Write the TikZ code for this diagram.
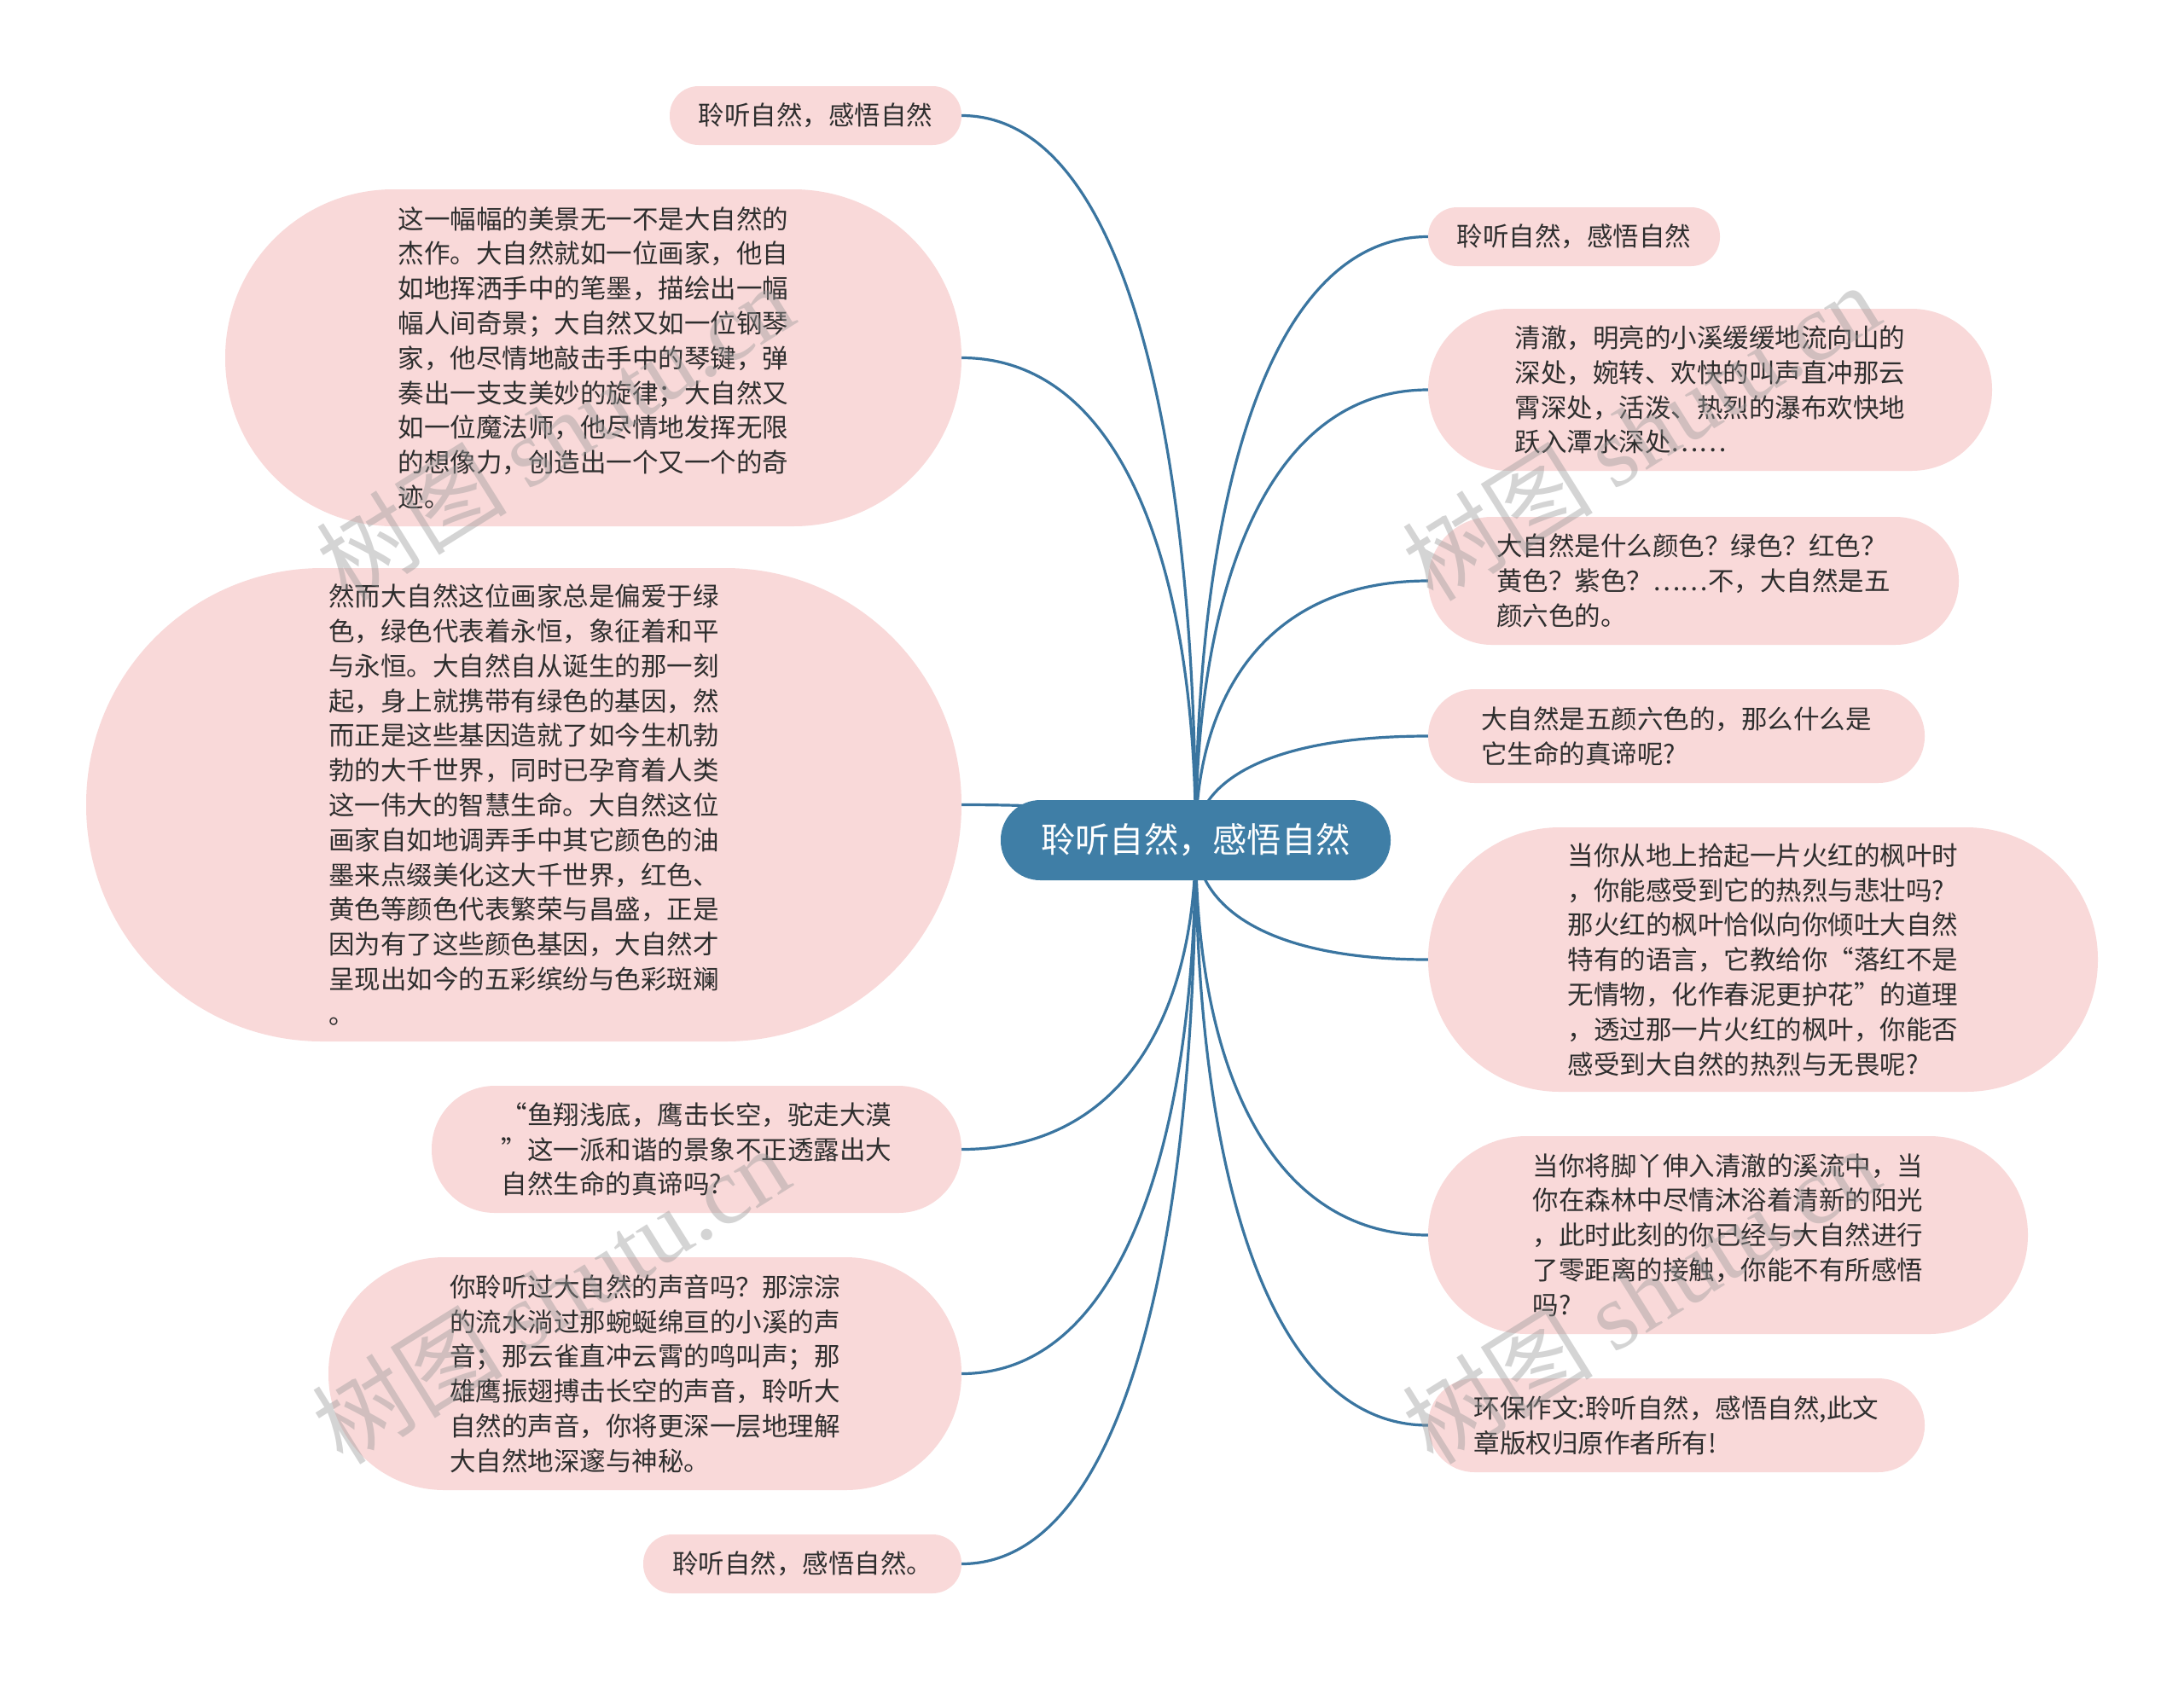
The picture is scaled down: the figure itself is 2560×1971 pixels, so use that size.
\documentclass[tikz,border=0pt]{standalone}
\usepackage{fontspec}
\setmainfont{Noto Sans CJK SC}
\newfontfamily\wmserif{Liberation Serif}
\usetikzlibrary{backgrounds}
\definecolor{pinkfill}{HTML}{F9D9D9}
\definecolor{hubblue}{HTML}{3F7EA6}
\definecolor{linkblue}{HTML}{3A75A0}
\definecolor{txtcol}{HTML}{2E2E2E}
\definecolor{wmgray}{HTML}{9A9A9A}
\newcommand\fwlq{\makebox[1em][r]{“}}
\newcommand\fwrq{\makebox[1em][l]{”}}
\begin{document}
\begin{tikzpicture}[x=1pt,y=-1pt,
  leaf/.style n args={2}{fill=pinkfill, text=txtcol, align=left, inner sep=0pt,
    minimum width=#1pt, minimum height=#2pt, rounded corners={#2pt*0.5-0.6pt},
    font={\fontsize{30.5}{40.8}\selectfont}},
  hub/.style={fill=hubblue, text=white, inner sep=0pt, minimum width=457pt,
    minimum height=94pt, rounded corners=46.4pt, font={\fontsize{40.3}{48}\selectfont}},
  link/.style={draw=linkblue, line width=3.2pt, line cap=round},
  wm/.style={text=wmgray, opacity=0.42, font={\fontsize{112}{112}\selectfont}, inner sep=0pt}]
\useasboundingbox (0,0) rectangle (2560,1971);

% central node
\node[hub] (C) at (1401.5,985) {聆听自然，感悟自然};

% left side
\node[leaf={342}{69}] (L1) at (956,135.5) {聆听自然，感悟自然};
\node[leaf={863}{395}] (L2) at (695.5,419.5) {这一幅幅的美景无一不是大自然的\\杰作。大自然就如一位画家，他自\\如地挥洒手中的笔墨，描绘出一幅\\幅人间奇景；大自然又如一位钢琴\\家，他尽情地敲击手中的琴键，弹\\奏出一支支美妙的旋律；大自然又\\如一位魔法师，他尽情地发挥无限\\的想像力，创造出一个又一个的奇\\迹。};
\node[leaf={1026}{555}] (L3) at (614,943.5) {然而大自然这位画家总是偏爱于绿\\色，绿色代表着永恒，象征着和平\\与永恒。大自然自从诞生的那一刻\\起，身上就携带有绿色的基因，然\\而正是这些基因造就了如今生机勃\\勃的大千世界，同时已孕育着人类\\这一伟大的智慧生命。大自然这位\\画家自如地调弄手中其它颜色的油\\墨来点缀美化这大千世界，红色、\\黄色等颜色代表繁荣与昌盛，正是\\因为有了这些颜色基因，大自然才\\呈现出如今的五彩缤纷与色彩斑斓\\。};
\node[leaf={621}{149}] (L4) at (816.5,1347.5) {\fwlq 鱼翔浅底，鹰击长空，驼走大漠\\\fwrq 这一派和谐的景象不正透露出大\\自然生命的真谛吗?};
\node[leaf={742}{273}] (L5) at (756,1610.5) {你聆听过大自然的声音吗？那淙淙\\的流水淌过那蜿蜒绵亘的小溪的声\\音；那云雀直冲云霄的鸣叫声；那\\雄鹰振翅搏击长空的声音，聆听大\\自然的声音，你将更深一层地理解\\大自然地深邃与神秘。};
\node[leaf={373}{69}] (L6) at (940.5,1833.5) {聆听自然，感悟自然。};

% right side
\node[leaf={342}{69}] (R1) at (1845,277.5) {聆听自然，感悟自然};
\node[leaf={661}{190}] (R2) at (2004.5,457) {清澈，明亮的小溪缓缓地流向山的\\深处，婉转、欢快的叫声直冲那云\\霄深处，活泼、热烈的瀑布欢快地\\跃入潭水深处……};
\node[leaf={622}{150}] (R3) at (1985,681) {大自然是什么颜色？绿色？红色？\\黄色？紫色？……不，大自然是五\\颜六色的。};
\node[leaf={582}{110}] (R4) at (1965,863) {大自然是五颜六色的，那么什么是\\它生命的真谛呢?};
\node[leaf={785}{310}] (R5) at (2066.5,1125) {当你从地上拾起一片火红的枫叶时\\，你能感受到它的热烈与悲壮吗?\\那火红的枫叶恰似向你倾吐大自然\\特有的语言，它教给你\fwlq 落红不是\\无情物，化作春泥更护花\fwrq 的道理\\，透过那一片火红的枫叶，你能否\\感受到大自然的热烈与无畏呢?};
\node[leaf={703}{232}] (R6) at (2025.5,1448) {当你将脚丫伸入清澈的溪流中，当\\你在森林中尽情沐浴着清新的阳光\\，此时此刻的你已经与大自然进行\\了零距离的接触，你能不有所感悟\\吗?};
\node[leaf={582}{110}] (R7) at (1965,1671) {环保作文:聆听自然，感悟自然,此文\\章版权归原作者所有!};

\begin{scope}[on background layer]
\fill[white] (0,0) rectangle (2560,1971);
\draw[link] (L1.east) .. controls +(192,0) and +(0,-467) .. (C.center);
\draw[link] (L2.east) .. controls +(192,0) and +(0,-311) .. (C.center);
\draw[link] (L3.east) .. controls +(192,0) and +(0,-23) .. (C.center);
\draw[link] (L4.east) .. controls +(192,0) and +(0,200) .. (C.center);
\draw[link] (L5.east) .. controls +(192,0) and +(0,344) .. (C.center);
\draw[link] (L6.east) .. controls +(192,0) and +(0,467) .. (C.center);
\draw[link] (R1.west) .. controls +(-191,0) and +(0,-389) .. (C.center);
\draw[link] (R2.west) .. controls +(-191,0) and +(0,-290) .. (C.center);
\draw[link] (R3.west) .. controls +(-191,0) and +(0,-167) .. (C.center);
\draw[link] (R4.west) .. controls +(-191,0) and +(0,-67) .. (C.center);
\draw[link] (R5.west) .. controls +(-191,0) and +(0,77) .. (C.center);
\draw[link] (R6.west) .. controls +(-191,0) and +(0,255) .. (C.center);
\draw[link] (R7.west) .. controls +(-191,0) and +(0,377) .. (C.center);
\end{scope}

% watermarks
\node[wm, rotate=32] (W1) at (650,506) {树图 {\wmserif shutu.cn}};
\node[wm, rotate=32] (W2) at (1923,506) {树图 {\wmserif shutu.cn}};
\node[wm, rotate=32] (W3) at (645,1518) {树图 {\wmserif shutu.cn}};
\node[wm, rotate=32] (W4) at (1923,1518) {树图 {\wmserif shutu.cn}};
\end{tikzpicture}
\end{document}
